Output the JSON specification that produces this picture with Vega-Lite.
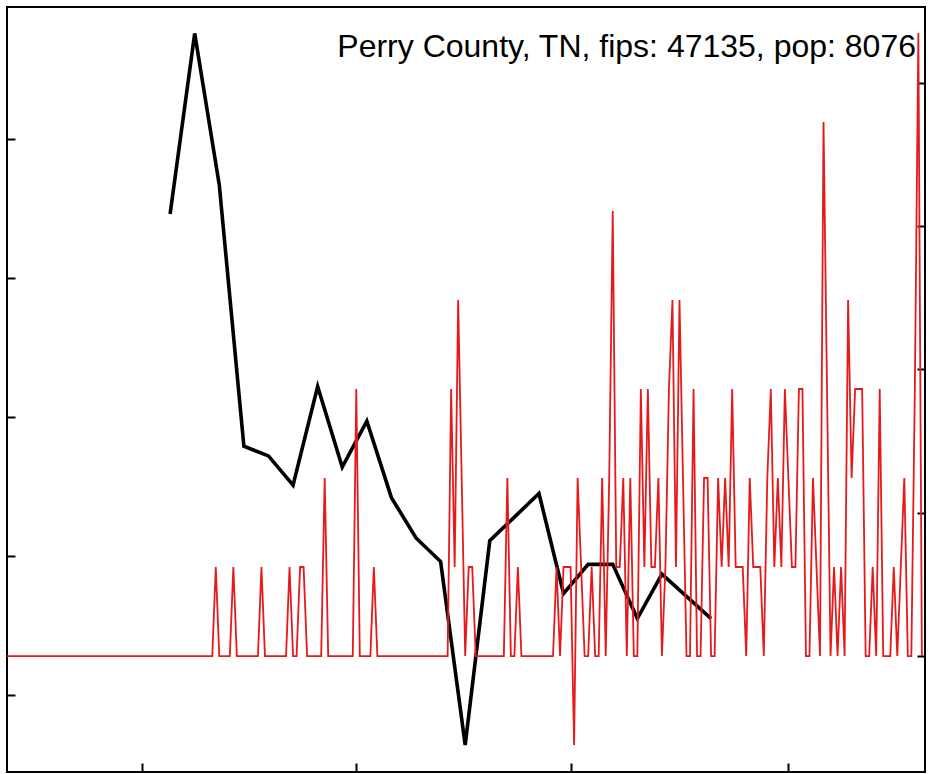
{
"$schema": "https://vega.github.io/schema/vega-lite/v6.json",
"width": 918, "height": 765,
"autosize": {"type": "none"},
"padding": {"left": 7, "top": 7, "right": 8, "bottom": 2},
"background": "white",
"config": {"view": {"stroke": "#000", "strokeWidth": 2}, "font": "Liberation Sans"},
"title": {"text": "Perry County, TN, fips: 47135, pop: 8076", "anchor": "end", "orient": "top", "offset": -51, "fontSize": 32, "fontWeight": "normal", "font": "Liberation Sans", "color": "#000", "baseline": "alphabetic", "dx": -10, "dy": 31},
"datasets": {
"weekly": [
{"date":"2020-03-09","value":34.6},{"date":"2020-03-16","value":47.6},{"date":"2020-03-23","value":36.7},{"date":"2020-03-30","value":17.9},
{"date":"2020-04-06","value":17.2},{"date":"2020-04-13","value":15.1},{"date":"2020-04-20","value":22.2},{"date":"2020-04-27","value":16.4},
{"date":"2020-05-04","value":19.7},{"date":"2020-05-11","value":14.2},{"date":"2020-05-18","value":11.3},{"date":"2020-05-25","value":9.6},
{"date":"2020-06-01","value":-3.6},{"date":"2020-06-08","value":11.1},{"date":"2020-06-15","value":12.8},{"date":"2020-06-22","value":14.5},
{"date":"2020-06-29","value":7.3},{"date":"2020-07-06","value":9.4},{"date":"2020-07-13","value":9.4},{"date":"2020-07-20","value":5.5},
{"date":"2020-07-27","value":8.7},{"date":"2020-08-03","value":7.1},{"date":"2020-08-10","value":5.5}
],
"daily": [
{"date":"2020-01-22","cases":0},{"date":"2020-01-23","cases":0},{"date":"2020-01-24","cases":0},{"date":"2020-01-25","cases":0},{"date":"2020-01-26","cases":0},{"date":"2020-01-27","cases":0},{"date":"2020-01-28","cases":0},{"date":"2020-01-29","cases":0},{"date":"2020-01-30","cases":0},{"date":"2020-01-31","cases":0},
{"date":"2020-02-01","cases":0},{"date":"2020-02-02","cases":0},{"date":"2020-02-03","cases":0},{"date":"2020-02-04","cases":0},{"date":"2020-02-05","cases":0},{"date":"2020-02-06","cases":0},{"date":"2020-02-07","cases":0},{"date":"2020-02-08","cases":0},{"date":"2020-02-09","cases":0},{"date":"2020-02-10","cases":0},
{"date":"2020-02-11","cases":0},{"date":"2020-02-12","cases":0},{"date":"2020-02-13","cases":0},{"date":"2020-02-14","cases":0},{"date":"2020-02-15","cases":0},{"date":"2020-02-16","cases":0},{"date":"2020-02-17","cases":0},{"date":"2020-02-18","cases":0},{"date":"2020-02-19","cases":0},{"date":"2020-02-20","cases":0},
{"date":"2020-02-21","cases":0},{"date":"2020-02-22","cases":0},{"date":"2020-02-23","cases":0},{"date":"2020-02-24","cases":0},{"date":"2020-02-25","cases":0},{"date":"2020-02-26","cases":0},{"date":"2020-02-27","cases":0},{"date":"2020-02-28","cases":0},{"date":"2020-02-29","cases":0},
{"date":"2020-03-01","cases":0},{"date":"2020-03-02","cases":0},{"date":"2020-03-03","cases":0},{"date":"2020-03-04","cases":0},{"date":"2020-03-05","cases":0},{"date":"2020-03-06","cases":0},{"date":"2020-03-07","cases":0},{"date":"2020-03-08","cases":0},{"date":"2020-03-09","cases":0},{"date":"2020-03-10","cases":0},
{"date":"2020-03-11","cases":0},{"date":"2020-03-12","cases":0},{"date":"2020-03-13","cases":0},{"date":"2020-03-14","cases":0},{"date":"2020-03-15","cases":0},{"date":"2020-03-16","cases":0},{"date":"2020-03-17","cases":0},{"date":"2020-03-18","cases":0},{"date":"2020-03-19","cases":0},{"date":"2020-03-20","cases":0},
{"date":"2020-03-21","cases":0},{"date":"2020-03-22","cases":1},{"date":"2020-03-23","cases":0},{"date":"2020-03-24","cases":0},{"date":"2020-03-25","cases":0},{"date":"2020-03-26","cases":0},{"date":"2020-03-27","cases":1},{"date":"2020-03-28","cases":0},{"date":"2020-03-29","cases":0},{"date":"2020-03-30","cases":0},{"date":"2020-03-31","cases":0},
{"date":"2020-04-01","cases":0},{"date":"2020-04-02","cases":0},{"date":"2020-04-03","cases":0},{"date":"2020-04-04","cases":1},{"date":"2020-04-05","cases":0},{"date":"2020-04-06","cases":0},{"date":"2020-04-07","cases":0},{"date":"2020-04-08","cases":0},{"date":"2020-04-09","cases":0},{"date":"2020-04-10","cases":0},
{"date":"2020-04-11","cases":0},{"date":"2020-04-12","cases":1},{"date":"2020-04-13","cases":0},{"date":"2020-04-14","cases":0},{"date":"2020-04-15","cases":1},{"date":"2020-04-16","cases":1},{"date":"2020-04-17","cases":0},{"date":"2020-04-18","cases":0},{"date":"2020-04-19","cases":0},{"date":"2020-04-20","cases":0},
{"date":"2020-04-21","cases":0},{"date":"2020-04-22","cases":2},{"date":"2020-04-23","cases":0},{"date":"2020-04-24","cases":0},{"date":"2020-04-25","cases":0},{"date":"2020-04-26","cases":0},{"date":"2020-04-27","cases":0},{"date":"2020-04-28","cases":0},{"date":"2020-04-29","cases":0},{"date":"2020-04-30","cases":0},
{"date":"2020-05-01","cases":3},{"date":"2020-05-02","cases":0},{"date":"2020-05-03","cases":0},{"date":"2020-05-04","cases":0},{"date":"2020-05-05","cases":0},{"date":"2020-05-06","cases":1},{"date":"2020-05-07","cases":0},{"date":"2020-05-08","cases":0},{"date":"2020-05-09","cases":0},{"date":"2020-05-10","cases":0},
{"date":"2020-05-11","cases":0},{"date":"2020-05-12","cases":0},{"date":"2020-05-13","cases":0},{"date":"2020-05-14","cases":0},{"date":"2020-05-15","cases":0},{"date":"2020-05-16","cases":0},{"date":"2020-05-17","cases":0},{"date":"2020-05-18","cases":0},{"date":"2020-05-19","cases":0},{"date":"2020-05-20","cases":0},
{"date":"2020-05-21","cases":0},{"date":"2020-05-22","cases":0},{"date":"2020-05-23","cases":0},{"date":"2020-05-24","cases":0},{"date":"2020-05-25","cases":0},{"date":"2020-05-26","cases":0},{"date":"2020-05-27","cases":0},{"date":"2020-05-28","cases":3},{"date":"2020-05-29","cases":1},{"date":"2020-05-30","cases":4},{"date":"2020-05-31","cases":2},
{"date":"2020-06-01","cases":0},{"date":"2020-06-02","cases":1},{"date":"2020-06-03","cases":1},{"date":"2020-06-04","cases":0},{"date":"2020-06-05","cases":0},{"date":"2020-06-06","cases":0},{"date":"2020-06-07","cases":0},{"date":"2020-06-08","cases":0},{"date":"2020-06-09","cases":0},{"date":"2020-06-10","cases":0},
{"date":"2020-06-11","cases":0},{"date":"2020-06-12","cases":0},{"date":"2020-06-13","cases":2},{"date":"2020-06-14","cases":0},{"date":"2020-06-15","cases":0},{"date":"2020-06-16","cases":1},{"date":"2020-06-17","cases":0},{"date":"2020-06-18","cases":0},{"date":"2020-06-19","cases":0},{"date":"2020-06-20","cases":0},
{"date":"2020-06-21","cases":0},{"date":"2020-06-22","cases":0},{"date":"2020-06-23","cases":0},{"date":"2020-06-24","cases":0},{"date":"2020-06-25","cases":0},{"date":"2020-06-26","cases":0},{"date":"2020-06-27","cases":1},{"date":"2020-06-28","cases":0},{"date":"2020-06-29","cases":1},{"date":"2020-06-30","cases":1},
{"date":"2020-07-01","cases":1},{"date":"2020-07-02","cases":-1},{"date":"2020-07-03","cases":2},{"date":"2020-07-04","cases":1},{"date":"2020-07-05","cases":0},{"date":"2020-07-06","cases":0},{"date":"2020-07-07","cases":1},{"date":"2020-07-08","cases":0},{"date":"2020-07-09","cases":0},{"date":"2020-07-10","cases":2},
{"date":"2020-07-11","cases":0},{"date":"2020-07-12","cases":2},{"date":"2020-07-13","cases":5},{"date":"2020-07-14","cases":1},{"date":"2020-07-15","cases":1},{"date":"2020-07-16","cases":2},{"date":"2020-07-17","cases":0},{"date":"2020-07-18","cases":2},{"date":"2020-07-19","cases":0},{"date":"2020-07-20","cases":0},
{"date":"2020-07-21","cases":3},{"date":"2020-07-22","cases":1},{"date":"2020-07-23","cases":3},{"date":"2020-07-24","cases":1},{"date":"2020-07-25","cases":1},{"date":"2020-07-26","cases":2},{"date":"2020-07-27","cases":0},{"date":"2020-07-28","cases":1},{"date":"2020-07-29","cases":3},{"date":"2020-07-30","cases":4},{"date":"2020-07-31","cases":1},
{"date":"2020-08-01","cases":4},{"date":"2020-08-02","cases":2},{"date":"2020-08-03","cases":0},{"date":"2020-08-04","cases":0},{"date":"2020-08-05","cases":3},{"date":"2020-08-06","cases":0},{"date":"2020-08-07","cases":0},{"date":"2020-08-08","cases":2},{"date":"2020-08-09","cases":2},{"date":"2020-08-10","cases":0},
{"date":"2020-08-11","cases":0},{"date":"2020-08-12","cases":2},{"date":"2020-08-13","cases":1},{"date":"2020-08-14","cases":2},{"date":"2020-08-15","cases":1},{"date":"2020-08-16","cases":3},{"date":"2020-08-17","cases":1},{"date":"2020-08-18","cases":1},{"date":"2020-08-19","cases":1},{"date":"2020-08-20","cases":0},
{"date":"2020-08-21","cases":2},{"date":"2020-08-22","cases":1},{"date":"2020-08-23","cases":1},{"date":"2020-08-24","cases":1},{"date":"2020-08-25","cases":0},{"date":"2020-08-26","cases":2},{"date":"2020-08-27","cases":3},{"date":"2020-08-28","cases":1},{"date":"2020-08-29","cases":2},{"date":"2020-08-30","cases":1},{"date":"2020-08-31","cases":3},
{"date":"2020-09-01","cases":2},{"date":"2020-09-02","cases":1},{"date":"2020-09-03","cases":1},{"date":"2020-09-04","cases":3},{"date":"2020-09-05","cases":3},{"date":"2020-09-06","cases":0},{"date":"2020-09-07","cases":0},{"date":"2020-09-08","cases":2},{"date":"2020-09-09","cases":1},{"date":"2020-09-10","cases":0},
{"date":"2020-09-11","cases":6},{"date":"2020-09-12","cases":3},{"date":"2020-09-13","cases":0},{"date":"2020-09-14","cases":1},{"date":"2020-09-15","cases":0},{"date":"2020-09-16","cases":1},{"date":"2020-09-17","cases":0},{"date":"2020-09-18","cases":4},{"date":"2020-09-19","cases":2},{"date":"2020-09-20","cases":3},
{"date":"2020-09-21","cases":3},{"date":"2020-09-22","cases":3},{"date":"2020-09-23","cases":0},{"date":"2020-09-24","cases":0},{"date":"2020-09-25","cases":1},{"date":"2020-09-26","cases":0},{"date":"2020-09-27","cases":3},{"date":"2020-09-28","cases":0},{"date":"2020-09-29","cases":0},{"date":"2020-09-30","cases":0},
{"date":"2020-10-01","cases":1},{"date":"2020-10-02","cases":0},{"date":"2020-10-03","cases":1},{"date":"2020-10-04","cases":2},{"date":"2020-10-05","cases":0},{"date":"2020-10-06","cases":0},{"date":"2020-10-07","cases":3},{"date":"2020-10-08","cases":7},{"date":"2020-10-09","cases":0}
]
},
"layer": [
{
"data": {"name": "weekly"},
"mark": {"type": "line", "color": "#000000", "strokeWidth": 3.6, "clip": true},
"encoding": {
"x": {"field": "date", "type": "temporal",
 "scale": {"type": "utc", "domain": [{"year": 2020, "month": 1, "date": 22, "hours": 13, "minutes": 41, "utc": true}, {"year": 2020, "month": 10, "date": 9, "hours": 21, "minutes": 22, "utc": true}]},
 "axis": {"orient": "bottom", "values": [{"year": 2020, "month": 3, "date": 1, "utc": true}, {"year": 2020, "month": 5, "date": 1, "utc": true}, {"year": 2020, "month": 7, "date": 1, "utc": true}, {"year": 2020, "month": 9, "date": 1, "utc": true}], "labels": false, "domain": false, "grid": false, "ticks": true, "tickSize": -9, "tickWidth": 2, "tickColor": "#000", "title": null}},
"y": {"field": "value", "type": "quantitative",
 "scale": {"domain": [-5.54, 49.5], "nice": false, "zero": false},
 "axis": {"orient": "left", "values": [0, 10, 20, 30, 40], "labels": false, "domain": false, "grid": false, "ticks": true, "tickSize": -8, "tickWidth": 2, "tickColor": "#000", "title": null}}
}
},
{
"data": {"name": "daily"},
"mark": {"type": "line", "color": "#e41a1c", "strokeWidth": 1.8, "clip": true},
"encoding": {
"x": {"field": "date", "type": "temporal"},
"y": {"field": "cases", "type": "quantitative",
 "scale": {"domain": [-1.303, 7.292], "nice": false, "zero": false},
 "axis": {"orient": "right", "values": [0, 1.61, 3.22, 4.83, 6.44], "labels": false, "domain": false, "grid": false, "ticks": true, "tickSize": -8, "tickWidth": 2, "tickColor": "#000", "title": null}}
}
}
],
"resolve": {"scale": {"y": "independent"}, "axis": {"y": "independent"}}
}
